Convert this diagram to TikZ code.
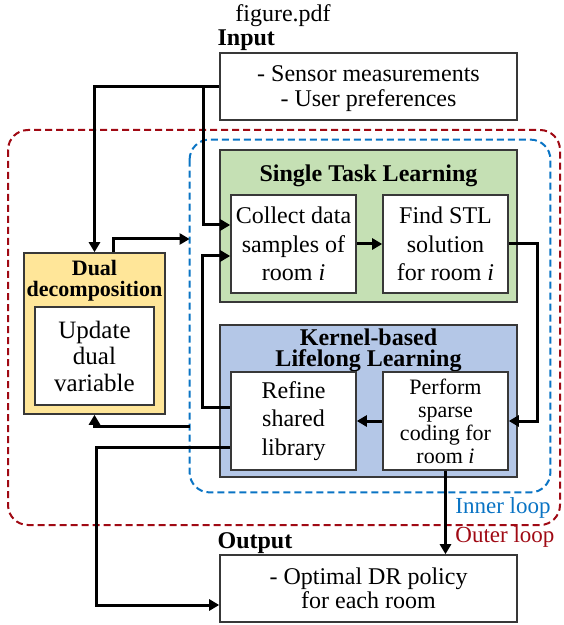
\documentclass[tikz,border=0pt]{standalone}
\usepackage{fontspec}
\setmainfont{Liberation Serif}
\usetikzlibrary{arrows.meta}
\definecolor{gfill}{HTML}{C5E0B4}
\definecolor{bfill}{HTML}{B4C7E7}
\definecolor{yfill}{HTML}{FFE699}
\definecolor{outerc}{HTML}{A00A14}
\definecolor{innerc}{HTML}{0A74C4}
\begin{document}
\begin{tikzpicture}[x=0.5pt,y=-0.5pt,
  box/.style={draw=black!78, line width=0.8pt, fill=white, inner sep=0pt, align=center},
  bigbox/.style={box, minimum width=148.5pt, minimum height=33.5pt},
  smallbox/.style={box, minimum width=62.5pt, minimum height=49pt},
  panel/.style={draw=black!78, line width=0.8pt, inner sep=0pt, minimum width=148.5pt, minimum height=76pt},
  loopbox/.style={dashed, dash pattern=on 3.5pt off 2pt, line width=1pt, rounded corners=10pt},
  arr/.style={line width=1.5pt, -{Triangle[length=5pt,width=5.5pt]}},
  txt/.style={font=\fontsize{12}{14.25}\selectfont},
  titl/.style={font=\fontsize{12}{10.5}\selectfont\bfseries, align=center, inner sep=0pt},
  lbl/.style={font=\fontsize{12}{14}\selectfont\bfseries, inner sep=0pt}
]
\useasboundingbox (0,0) rectangle (563,625);

% loop frames
\draw[loopbox, draw=outerc] (8,130) rectangle (560,525);
\node[draw=none, inner sep=0pt, minimum width=180pt, minimum height=176pt] (inner) at (370,316) {};
\draw[loopbox, draw=innerc] (inner.north west) rectangle (inner.south east);

% top text
\node[font=\fontsize{12}{14}\selectfont, inner sep=0pt] (fig) at (283,16) {figure.pdf};

% input
\node[bigbox, text depth=0pt, font=\fontsize{12}{12.5}\selectfont] (input) at (368.5,86.5) {- Sensor measurements\\- User preferences};
\node[lbl, anchor=south west] (inlbl) at ([xshift=-1pt,yshift=0.5pt]input.north west) {Input};

% single task learning
\node[panel, fill=gfill] (stl) at (368.5,226) {};
\node[titl] (stltitle) at (368.5,176) {Single Task Learning};
\node[smallbox, txt] (collect) at (293.5,244) {Collect data\\samples of\\room \textit{i}};
\node[smallbox, txt] (find) at (445.5,244) {Find STL\\solution\\for room \textit{i}};

% kernel-based lifelong learning
\node[panel, fill=bfill] (kll) at (368.5,401) {};
\node[titl] (klltitle) at (368.5,350.5) {Kernel-based\\Lifelong Learning};
\node[smallbox, txt] (refine) at (293.5,421) {Refine\\shared\\library};
\node[smallbox, font=\fontsize{11}{11.5}\selectfont] (perform) at (445.5,421) {Perform\\sparse\\coding for\\room \textit{i}};

% dual decomposition
\node[draw=black!78, line width=0.8pt, fill=yfill, inner sep=0pt, minimum width=70.5pt, minimum height=80.5pt] (dual) at (94.5,333.5) {};
\node[font=\fontsize{11}{10.5}\selectfont\bfseries, align=center, inner sep=0pt] (dualtitle) at (94.5,281) {Dual\\decomposition};
\node[box, minimum width=59.5pt, minimum height=49pt, font=\fontsize{12.5}{13.25}\selectfont] (update) at (94.5,356) {Update\\dual\\variable};

% output
\node[bigbox, text depth=0pt, font=\fontsize{12}{12}\selectfont] (output) at (368.5,588.5) {- Optimal DR policy\\for each room};
\node[lbl, anchor=south west] (outlbl) at ([xshift=-1pt,yshift=0pt]output.north west) {Output};

% loop labels
\node[font=\fontsize{11.5}{12}\selectfont, text=innerc, anchor=west, inner sep=0pt] (innerlbl) at (455,508) {Inner loop};
\node[font=\fontsize{11.5}{12}\selectfont, text=outerc, anchor=west, inner sep=0pt] (outerlbl) at (455,537) {Outer loop};

% connectors
\coordinate (b1) at (203,86.5);
\draw[arr] (input.west) -| (dual.north);
\draw[arr] (b1) |- ([yshift=9.5pt]collect.west);
\draw[arr] ([yshift=7pt]refine.west) -| (202,256) -- ([yshift=-6pt]collect.west);
\coordinate (dout) at ([xshift=9.25pt]dual.north);
\coordinate (ia) at (inner.west |- 0,239);
\draw[arr] (dout) |- (ia);
\coordinate (ib) at (inner.west |- 0,426);
\draw[arr] (ib) -| (dual.south);
\draw[arr] ([yshift=-13pt]refine.west) -| (96,520) |- ([yshift=-8.25pt]output.west);
\draw[arr] (collect.east) -- (find.west);
\draw[arr] (find.east) -| (537,330) |- (perform.east);
\draw[arr] (perform.west) -- (refine.east);
\draw[arr] (perform.south) -- (perform.south |- output.north);
\end{tikzpicture}
\end{document}
